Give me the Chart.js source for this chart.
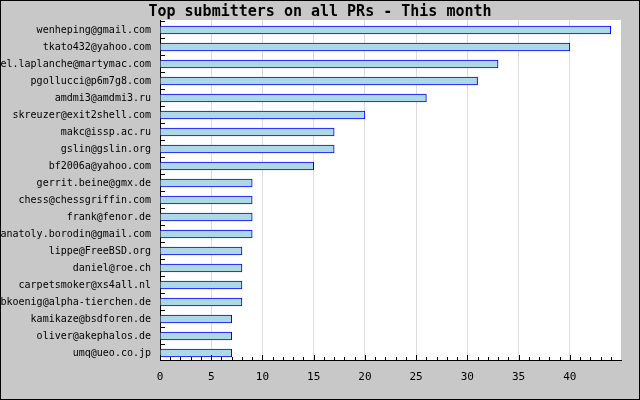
<!DOCTYPE html>
<html>
<head>
<meta charset="utf-8">
<script src="https://cdn.jsdelivr.net/npm/chart.js@4/dist/chart.umd.min.js"></script>
<style>
  html, body { margin: 0; padding: 0; background: #c8c8c8; }
  #c { display: block; }
</style>
</head>
<body>
<canvas id="c" width="640" height="400"></canvas>
<script>
const chartTitle = 'Top submitters on all PRs - This month';
const submitters = [
  'wenheping@gmail.com',
  'tkato432@yahoo.com',
  'el.laplanche@martymac.com',
  'pgollucci@p6m7g8.com',
  'amdmi3@amdmi3.ru',
  'skreuzer@exit2shell.com',
  'makc@issp.ac.ru',
  'gslin@gslin.org',
  'bf2006a@yahoo.com',
  'gerrit.beine@gmx.de',
  'chess@chessgriffin.com',
  'frank@fenor.de',
  'anatoly.borodin@gmail.com',
  'lippe@FreeBSD.org',
  'daniel@roe.ch',
  'carpetsmoker@xs4all.nl',
  'bkoenig@alpha-tierchen.de',
  'kamikaze@bsdforen.de',
  'oliver@akephalos.de',
  'umq@ueo.co.jp'
];
const prCounts = [44, 40, 33, 31, 26, 20, 17, 17, 15, 9, 9, 9, 9, 8, 8, 8, 8, 7, 7, 7];
const xMin = 0;
const xMax = 45;
const xMajorStep = 5;
const xLastLabel = 40;

const MONO = '"DejaVu Sans Mono", "Liberation Mono", monospace';

// category positions on a linear index axis (row i at value i)
const rowData = prCounts.map((v, i) => ({ x: v, y: i }));
const yMin = -0.588;
const yMax = submitters.length - 1 + 0.412;

const decor = {
  id: 'decor',
  beforeDraw(chart) {
    const { ctx, chartArea: a, width, height } = chart;
    ctx.save();
    ctx.fillStyle = '#c8c8c8';
    ctx.fillRect(0, 0, width, height);
    ctx.fillStyle = '#ffffff';
    ctx.fillRect(a.left, a.top, a.right - a.left, a.bottom - a.top);
    ctx.strokeStyle = '#000000';
    ctx.lineWidth = 1;
    ctx.strokeRect(0.5, 0.5, width - 1, height - 1);
    ctx.restore();
  },
  afterDatasetsDraw(chart) {
    const { ctx, chartArea: a } = chart;
    const xs = chart.scales.x, ys = chart.scales.y;
    ctx.save();
    ctx.strokeStyle = '#000000';
    ctx.lineWidth = 1;
    ctx.beginPath();
    for (let v = xMin; v < xMax; v++) {
      const px = Math.round(xs.getPixelForValue(v)) + 0.5;
      const len = (v % xMajorStep === 0) ? 5 : 3;
      ctx.moveTo(px, a.bottom);
      ctx.lineTo(px, a.bottom - len);
    }
    const n = submitters.length;
    for (let i = 0; i < n; i++) {
      const py = Math.floor(ys.getPixelForValue(i - 0.5)) + 0.5;
      if (py < a.top || py > a.bottom) continue;
      ctx.moveTo(a.left, py);
      ctx.lineTo(a.left + 5, py);
    }
    ctx.stroke();
    ctx.restore();
  }
};

new Chart(document.getElementById('c'), {
  type: 'bar',
  data: {
    labels: submitters,
    datasets: [{
      data: rowData,
      backgroundColor: '#add8e6',
      borderColor: '#0000ff',
      borderWidth: 1,
      barThickness: 8
    }]
  },
  options: {
    indexAxis: 'y',
    responsive: false,
    animation: false,
    devicePixelRatio: 1,
    layout: { padding: 0 },
    plugins: {
      legend: { display: false },
      tooltip: { enabled: false },
      title: {
        display: true,
        text: chartTitle,
        color: '#000000',
        font: { family: MONO, size: 15, weight: 'bold', lineHeight: 1 },
        padding: { top: 5, bottom: 0 }
      }
    },
    scales: {
      x: {
        type: 'linear',
        min: xMin,
        max: xMax,
        afterFit(s) { s.height = 40; },
        border: { display: true, color: '#000000', width: 1 },
        grid: {
          drawTicks: false,
          color(ctx) {
            const v = ctx.tick ? ctx.tick.value : 0;
            return (v > xMin && v < xMax) ? '#dddddd' : 'rgba(0,0,0,0)';
          },
          lineWidth: 1
        },
        ticks: {
          stepSize: xMajorStep,
          color: '#000000',
          padding: 11,
          maxRotation: 0,
          autoSkip: false,
          font: { family: MONO, size: 11 },
          callback(v) { return v <= xLastLabel ? String(v) : ''; }
        }
      },
      y: {
        type: 'linear',
        reverse: true,
        offset: false,
        min: yMin,
        max: yMax,
        afterBuildTicks(s) { s.ticks = submitters.map((_, i) => ({ value: i })); },
        afterFit(s) { s.width = 160; },
        border: { display: true, color: '#000000', width: 1 },
        grid: { display: false, drawTicks: false, offset: false },
        ticks: {
          color: '#000000',
          padding: 9,
          autoSkip: false,
          font: { family: MONO, size: 10 },
          callback(v) { return submitters[v] !== undefined ? submitters[v] : ''; }
        }
      },
      margin: {
        type: 'linear',
        position: 'right',
        display: true,
        afterFit(s) { s.width = 19; },
        border: { display: false },
        grid: { display: false, drawTicks: false },
        ticks: { display: false }
      }
    }
  },
  plugins: [decor]
});
</script>
</body>
</html>
